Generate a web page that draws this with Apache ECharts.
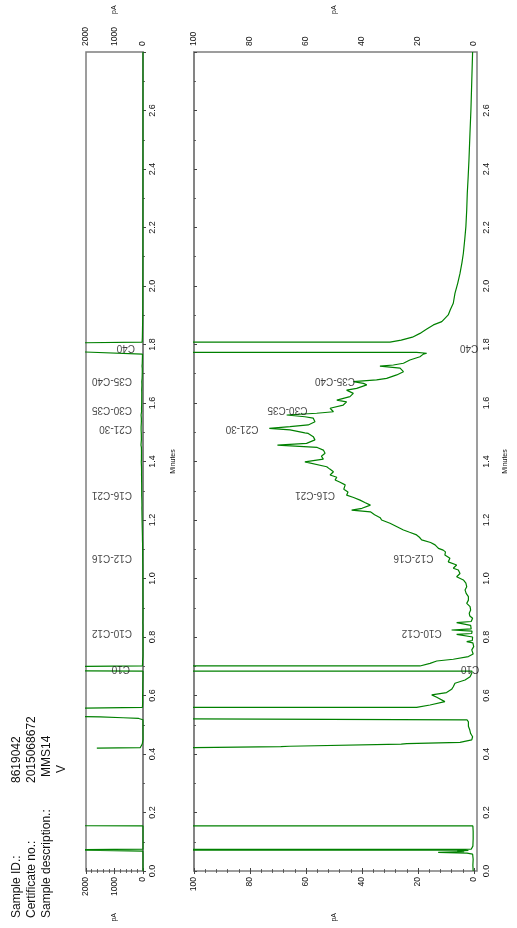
<!DOCTYPE html>
<html>
<head>
<meta charset="utf-8">
<script src="https://cdn.jsdelivr.net/npm/echarts@6/dist/echarts.min.js"></script>
<style>
  html, body { margin: 0; padding: 0; background: #fff; }
  #chart { width: 517px; height: 928px; }
</style>
</head>
<body>
<div id="chart"></div>
<script>
// FID trace: retention time (min) and detector response (pA); null = no data recorded
const minutes = [
  0.000, 0.020, 0.040, 0.058, 0.061, 0.064, 0.066, 0.068, 0.070, 0.0715, 0.0725, 0.0735, 0.0745,
  0.085, 0.110, 0.135, 0.154, 0.155, 0.300,
  0.4200, 0.4215, 0.4250, 0.4265, 0.4340, 0.4355, 0.4400, 0.4480, 0.459, 0.470, 0.482, 0.495, 0.510,
  0.517, 0.5215, 0.5240, 0.5270, 0.5300, 0.5560, 0.5596, 0.5675, 0.579, 0.594, 0.602, 0.610, 0.621,
  0.630, 0.642, 0.653, 0.664, 0.676, 0.683, 0.6850, 0.6990, 0.7010, 0.710, 0.718, 0.724, 0.733,
  0.742, 0.756, 0.767, 0.773, 0.780, 0.784, 0.788, 0.800, 0.806, 0.809, 0.812, 0.820, 0.824, 0.828,
  0.840, 0.845, 0.849, 0.853, 0.864, 0.872, 0.881, 0.892, 0.904, 0.915, 0.926, 0.938, 0.949, 0.961,
  0.972, 0.984, 0.995, 1.006, 1.017, 1.029, 1.035, 1.046, 1.057, 1.069, 1.080, 1.091, 1.097, 1.103,
  1.115, 1.123, 1.132, 1.141, 1.149, 1.158, 1.166, 1.177, 1.189, 1.200, 1.208, 1.218, 1.228, 1.234,
  1.240, 1.251, 1.260, 1.268, 1.277, 1.285, 1.296, 1.305, 1.320, 1.330, 1.337, 1.346, 1.354, 1.365,
  1.374, 1.382, 1.399, 1.408, 1.418, 1.428, 1.439, 1.448, 1.456, 1.462, 1.474, 1.485, 1.496, 1.498,
  1.508, 1.513, 1.519, 1.525, 1.536, 1.548, 1.553, 1.559, 1.565, 1.570, 1.582, 1.593, 1.604, 1.610,
  1.622, 1.633, 1.644, 1.650, 1.662, 1.667, 1.673, 1.679, 1.684, 1.696, 1.707, 1.719, 1.726, 1.730,
  1.736, 1.747, 1.758, 1.767, 1.770, 1.773, 1.7780, 1.8050, 1.8080, 1.815, 1.825, 1.838, 1.852, 1.867,
  1.878, 1.890, 1.901, 1.918, 1.941, 1.975, 2.010, 2.043, 2.080, 2.112, 2.160, 2.203, 2.260, 2.317,
  2.370, 2.431, 2.520, 2.602, 2.700, 2.800
];
const signal = [
  0.3, 0.4, 0.3, 0.5, 2.5, 12.8, 3.5, 6.0, 2.0, 4.0, 3000, 3000, 1.0,
  0.4, 0.3, 0.3, 0.4, 3000, null,
  1620, 100, 69, 66, 26, 24, 5, 0.8, 0.5, 1.2, 1.5, 2.0, 2.0,
  2.5, 150, 700, 1500, 3000, 3000, 20.5, 15.7, 10.4, 13.3, 15.1, 9.8, 8.0,
  7.4, 6.8, 3.2, 1.4, 0.8, 0.7, 3000, 3000, 19.3, 15.7, 13.3, 7.4, 2.0,
  0.3, 0.8, 0.1, 0.8, 0.4, 2.6, 0.6, 0.5, 0.8, 6.2, 0.8, 0.7, 8.0, 1.0,
  1.2, 1.0, 6.2, 1.0, 0.5, 1.5, 1.7, 1.2, 1.4, 2.6, 2.0, 2.0, 2.8, 3.2,
  2.6, 2.9, 3.8, 6.2, 5.0, 5.6, 7.4, 6.2, 9.2, 8.6, 10.4, 10.2, 11.0, 12.7,
  13.9, 15.5, 18.7, 19.5, 20.5, 23.0, 25.2, 27.5, 30.0, 33.0, 33.5, 35.5, 37.0, 43.7,
  40.0, 37.0, 39.0, 40.7, 43.0, 45.5, 45.0, 46.5, 46.0, 48.0, 49.6, 49.0, 51.4, 50.2,
  51.5, 52.6, 60.4, 53.8, 54.5, 53.2, 53.8, 56.0, 70.2, 59.8, 56.8, 57.4, 59.2, 60.4,
  65.7, 73.1, 65.7, 59.2, 56.8, 57.4, 60.4, 66.9, 56.2, 50.2, 51.4, 46.7, 45.5, 49.0,
  44.3, 43.1, 45.5, 41.9, 38.3, 39.5, 43.1, 34.8, 31.2, 27.6, 25.2, 26.4, 33.6, 28.8,
  25.2, 22.9, 19.3, 18.1, 16.9, 20.5, 3000, 3000, 30, 26, 22, 19.3, 17, 14.5,
  11.5, 10.3, 9.2, 8.5, 7.4, 6.8, 5.8, 5.0, 4.3, 3.8, 3.3, 2.9, 2.6, 2.4,
  2.1, 1.8, 1.45, 1.1, 0.8, 0.5
];

// Carbon-range windows annotated on the trace
const windowNames = ['C10', 'C10-C12', 'C12-C16', 'C16-C21', 'C21-30', 'C30-C35', 'C35-C40', 'C40'];
const windowTimes = [0.690, 0.816, 1.072, 1.285, 1.511, 1.576, 1.676, 1.788];
const windowLevelMain = [-1.9, 11.5, 14.5, 49.6, 77, 59.5, 42.5, -1.5];
const windowLevelWide = [456, 386, 386, 386, 386, 386, 386, 281];

// Sample header
const sampleFields = ['Sample ID.:', 'Certificate no.:', 'Sample description.:'];
const sampleValues = ['8619042', '2015068672', 'MMS14', 'V'];

const FONT = '"Liberation Sans", Arial, Helvetica, sans-serif';
const frameColor = '#7d7d7d';
const tickColor = '#444';
const traceColor = '#008000';

const trace = minutes.map((t, i) => [signal[i], t]);

function pAAxis(grid, pos, max, interval, nameGap) {
  return {
    gridIndex: grid, type: 'value', position: pos, inverse: true,
    min: 0, max: max, interval: interval,
    axisLine: { show: false },
    axisTick: { show: true, inside: true, length: 3, lineStyle: { color: tickColor, width: 1 } },
    minorTick: { show: true, splitNumber: 5, length: 2, lineStyle: { color: tickColor, width: 0.8 } },
    splitLine: { show: false },
    axisLabel: { rotate: 90, margin: 6, fontSize: 8.5, color: '#111', fontFamily: FONT, formatter: v => String(v) },
    name: 'pA', nameLocation: 'middle', nameGap: nameGap, nameRotate: 90,
    nameTextStyle: { fontSize: 7, color: '#111', fontFamily: FONT }
  };
}

function minutesAxis(grid, nameGap) {
  return {
    gridIndex: grid, type: 'value', position: 'right', min: 0, max: 2.8, interval: 0.2,
    axisLine: { show: true, lineStyle: { color: frameColor, width: 1.5 } },
    axisTick: { show: true, inside: false, length: 3, lineStyle: { color: tickColor, width: 1 } },
    minorTick: { show: true, splitNumber: 2, length: 2, lineStyle: { color: tickColor, width: 0.8 } },
    splitLine: { show: false },
    axisLabel: {
      rotate: 90, margin: 5, fontSize: 9, color: '#111', fontFamily: FONT,
      showMaxLabel: false, formatter: v => v.toFixed(1)
    },
    name: 'Minutes', nameLocation: 'middle', nameGap: nameGap, nameRotate: 90,
    nameTextStyle: { fontSize: 7, color: '#111', fontFamily: FONT }
  };
}

function windowLabels(xIdx, yIdx, levels) {
  return {
    type: 'scatter', xAxisIndex: xIdx, yAxisIndex: yIdx, clip: false, silent: true,
    symbolSize: 0.1, itemStyle: { color: 'rgba(0,0,0,0)' },
    data: windowNames.map((n, i) => ({ name: n, value: [levels[i], windowTimes[i]] })),
    label: {
      show: true, formatter: '{b}', position: 'inside', align: 'left', verticalAlign: 'middle',
      rotate: 180, fontSize: 10, color: '#111', fontFamily: FONT
    },
    z: 5
  };
}

function headerText(text, x, y) {
  return {
    type: 'text', x: x, y: y, rotation: Math.PI / 2, silent: true,
    style: { text: text, fill: '#111', font: '12px ' + FONT, align: 'left', verticalAlign: 'middle' }
  };
}

const chart = echarts.init(document.getElementById('chart'), null, { renderer: 'canvas' });
chart.setOption({
  animation: false,
  backgroundColor: '#fff',
  grid: [
    { left: 86, width: 57, top: 52, bottom: 57, show: true, borderColor: frameColor, borderWidth: 1.5 },
    { left: 194, right: 43, top: 52, bottom: 57 },
    { left: 194, right: 28, top: 52, bottom: 57, show: true, borderColor: frameColor, borderWidth: 1.5 }
  ],
  xAxis: [
    pAAxis(0, 'top', 2000, 1000, 38),
    pAAxis(0, 'bottom', 2000, 1000, 42),
    pAAxis(1, 'top', 100, 20, 38),
    pAAxis(1, 'bottom', 100, 20, 42),
    { gridIndex: 2, type: 'value', min: 0, max: 1, show: false }
  ],
  yAxis: [
    minutesAxis(0, 27),
    { gridIndex: 1, type: 'value', min: 0, max: 2.8, show: false },
    minutesAxis(2, 25)
  ],
  series: [
    {
      type: 'line', xAxisIndex: 0, yAxisIndex: 0, data: trace, showSymbol: false,
      connectNulls: false, clip: true, lineStyle: { color: traceColor, width: 1.2 }
    },
    {
      type: 'line', xAxisIndex: 2, yAxisIndex: 1, data: trace, showSymbol: false,
      connectNulls: false, clip: true, lineStyle: { color: traceColor, width: 1.2 }
    },
    windowLabels(0, 0, windowLevelWide),
    windowLabels(2, 1, windowLevelMain)
  ],
  graphic: [
    headerText(sampleFields[0], 16.5, 918),
    headerText(sampleFields[1], 31.5, 918),
    headerText(sampleFields[2], 46.5, 918),
    headerText(sampleValues[0], 16.5, 783),
    headerText(sampleValues[1], 31.5, 783),
    headerText(sampleValues[2], 46.5, 777),
    headerText(sampleValues[3], 61.5, 773)
  ]
});
</script>
</body>
</html>
